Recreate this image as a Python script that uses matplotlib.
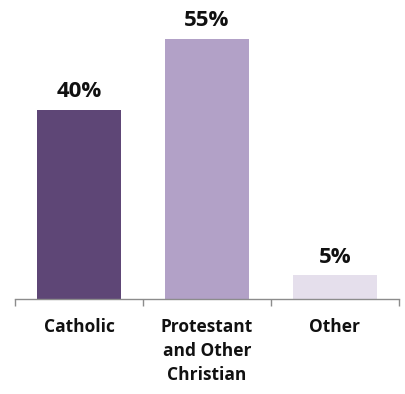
import matplotlib.pyplot as plt

categories = ["Catholic", "Protestant\nand Other\nChristian", "Other"]
values = [40, 55, 5]
labels = ["40%", "55%", "5%"]
colors = ["#5E4676", "#B2A1C7", "#E5DFEC"]

fig = plt.figure(figsize=(4.06, 3.94), dpi=100)
ax = fig.add_axes([15 / 406, 95 / 394, 384 / 406, 299 / 394])

x = list(range(len(values)))
ax.bar(x, values, width=0.656, color=colors)
ax.set_xlim(-0.5, 2.5)
ax.set_ylim(0, 63.2)

for xi, v, lab in zip(x, values, labels):
    ax.annotate(lab, (xi, v), xytext=(0, 5.5), textcoords="offset points",
                ha="center", va="bottom", fontsize=16, fontweight="bold",
                family="Open Sans", color="#111111")

for s in ["top", "right", "left"]:
    ax.spines[s].set_visible(False)
ax.spines["bottom"].set_color("#8c8c8c")
ax.spines["bottom"].set_linewidth(1.0)
ax.set_yticks([])

ax.set_xticks([-0.5, 0.5, 1.5, 2.5])
ax.set_xticklabels([])
ax.tick_params(axis="x", length=5, color="#8c8c8c", width=1.0)

for xi, cat in zip(x, categories):
    ax.annotate(cat, (xi, 0), xytext=(0, -14), textcoords="offset points",
                ha="center", va="top", fontsize=12.5, fontweight="bold",
                family="Open Sans", color="#111111", linespacing=1.4)

fig.savefig("out.png", dpi=100, facecolor="white")
